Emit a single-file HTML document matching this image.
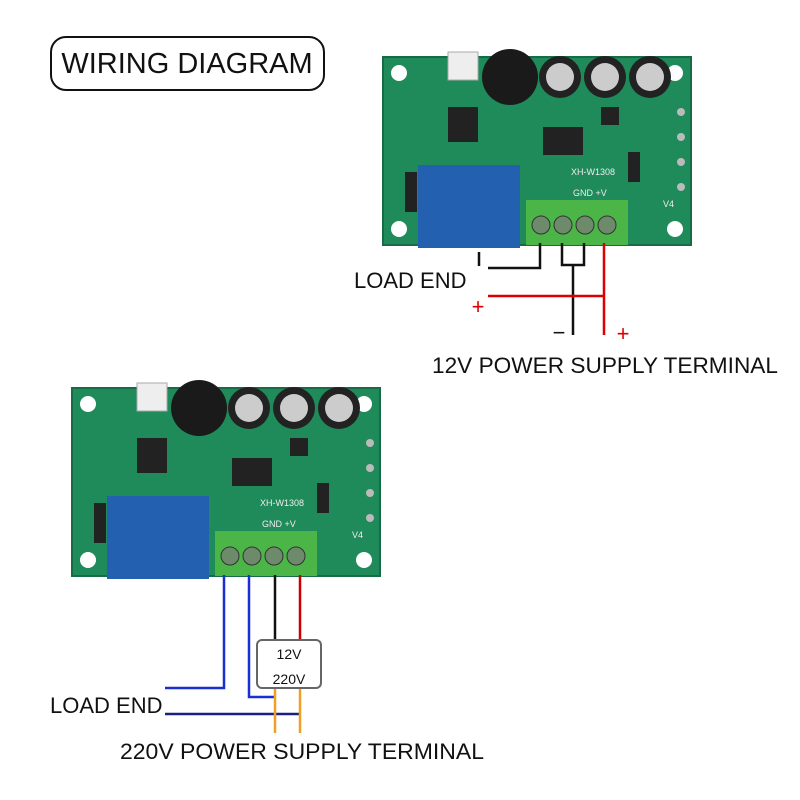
<!DOCTYPE html>
<html><head><meta charset="utf-8"><style>
body{margin:0;background:#fff;}
svg{display:block;font-family:"Liberation Sans",sans-serif;}
</style></head><body>
<svg width="800" height="800" viewBox="0 0 800 800">
<rect x="51" y="37" width="273" height="53" rx="15" fill="#fff" stroke="#111" stroke-width="2"/>
<text x="187" y="73" font-size="29" text-anchor="middle" fill="#111">WIRING DIAGRAM</text>

<defs>
<g id="board">
<rect x="0" y="0" width="308" height="188" fill="#1f8a5a"/>
<rect x="0" y="0" width="308" height="188" fill="none" stroke="#176b45" stroke-width="2"/>
<circle cx="16" cy="16" r="8" fill="#fff"/><circle cx="292" cy="16" r="8" fill="#fff"/>
<circle cx="16" cy="172" r="8" fill="#fff"/><circle cx="292" cy="172" r="8" fill="#fff"/>
<rect x="65" y="-5" width="30" height="28" fill="#eee" stroke="#aaa"/>
<circle cx="127" cy="20" r="28" fill="#1a1a1a"/>
<circle cx="177" cy="20" r="21" fill="#222"/><circle cx="177" cy="20" r="14" fill="#ccc"/>
<circle cx="222" cy="20" r="21" fill="#222"/><circle cx="222" cy="20" r="14" fill="#ccc"/>
<circle cx="267" cy="20" r="21" fill="#222"/><circle cx="267" cy="20" r="14" fill="#ccc"/>
<rect x="65" y="50" width="30" height="35" fill="#222"/>
<rect x="160" y="70" width="40" height="28" fill="#222"/>
<rect x="218" y="50" width="18" height="18" fill="#222"/>
<rect x="245" y="95" width="12" height="30" fill="#222"/>
<rect x="22" y="115" width="12" height="40" fill="#222"/>
<circle cx="298" cy="55" r="4" fill="#bbb"/><circle cx="298" cy="80" r="4" fill="#bbb"/><circle cx="298" cy="105" r="4" fill="#bbb"/><circle cx="298" cy="130" r="4" fill="#bbb"/>
<text x="188" y="118" font-size="9" fill="#eee">XH-W1308</text>
<text x="190" y="139" font-size="9" fill="#eee">GND +V</text>
<text x="280" y="150" font-size="9" fill="#eee">V4</text>
<rect x="35" y="108" width="102" height="83" fill="#2460b0"/>
<rect x="143" y="143" width="102" height="45" fill="#4bb548"/>
<g fill="#6d8a6a" stroke="#333">
<circle cx="158" cy="168" r="9"/><circle cx="180" cy="168" r="9"/><circle cx="202" cy="168" r="9"/><circle cx="224" cy="168" r="9"/>
</g>
</g>
</defs>
<use href="#board" x="383" y="57"/>
<use href="#board" x="72" y="388"/>

<g fill="none" stroke-width="2.5">
<polyline points="540,243 540,268 488,268" stroke="#111"/>
<line x1="479" y1="252" x2="479" y2="266" stroke="#111"/>
<polyline points="562,243 562,265 584,265 584,243" stroke="#111"/>
<line x1="573" y1="265" x2="573" y2="335" stroke="#111"/>
<line x1="604" y1="243" x2="604" y2="335" stroke="#d00"/>
<line x1="488" y1="296" x2="604" y2="296" stroke="#d00"/>
</g>
<text x="478" y="314" font-size="22" fill="#d00" text-anchor="middle">+</text>
<text x="559" y="340" font-size="22" fill="#111" text-anchor="middle">−</text>
<text x="623" y="341" font-size="22" fill="#d00" text-anchor="middle">+</text>
<text x="354" y="288" font-size="22" fill="#111">LOAD END</text>
<text x="432" y="373" font-size="22" fill="#111" textLength="346" lengthAdjust="spacingAndGlyphs">12V POWER SUPPLY TERMINAL</text>

<g fill="none" stroke-width="2.5">
<polyline points="224,575 224,688 165,688" stroke="#1a2fd0"/>
<polyline points="249,575 249,697 274,697" stroke="#1a2fd0"/>
<line x1="165" y1="714" x2="300" y2="714" stroke="#1a2080"/>
<line x1="275" y1="575" x2="275" y2="640" stroke="#111"/>
<line x1="300" y1="575" x2="300" y2="640" stroke="#c00"/>
<line x1="275" y1="688" x2="275" y2="733" stroke="#f0a020"/>
<line x1="300" y1="688" x2="300" y2="733" stroke="#f0a020"/>
</g>
<rect x="257" y="640" width="64" height="48" rx="5" fill="#fff" stroke="#666" stroke-width="2"/>
<text x="289" y="659" font-size="14" text-anchor="middle" fill="#111">12V</text>
<text x="289" y="684" font-size="14" text-anchor="middle" fill="#111">220V</text>
<text x="50" y="713" font-size="22" fill="#111">LOAD END</text>
<text x="120" y="759" font-size="22" fill="#111" textLength="364" lengthAdjust="spacingAndGlyphs">220V POWER SUPPLY TERMINAL</text>
</svg>
</body></html>
